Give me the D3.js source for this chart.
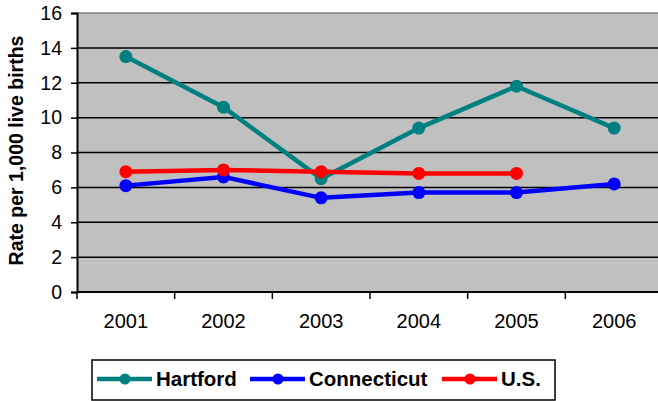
<!DOCTYPE html>
<html>
<head>
<meta charset="utf-8">
<script src="https://cdn.jsdelivr.net/npm/d3@7.9.0/dist/d3.min.js"></script>
<style>
  html, body { margin: 0; padding: 0; background: #fff; }
  svg { display: block; font-family: Arial, "Liberation Sans", sans-serif; }
</style>
</head>
<body>
<div id="chart"></div>
<script>
/* ---------- data --------- */
const years = ['2001', '2002', '2003', '2004', '2005', '2006'];
const hartford    = [13.5, 10.6, 6.5, 9.4, 11.8, 9.4];
const connecticut = [6.1, 6.6, 5.4, 5.7, 5.7, 6.2];
const us          = [6.9, 7.0, 6.9, 6.8, 6.8, null];
const yTicks = [0, 2, 4, 6, 8, 10, 12, 14, 16];

const series = [
  { name: 'Hartford',    values: hartford,    color: '#008080' },
  { name: 'Connecticut', values: connecticut, color: '#0000FF' },
  { name: 'U.S.',        values: us,          color: '#FF0000' },
];

/* ---------- layout --------- */
const W = 658, H = 401;
const area = { l: 77, r: 663, t: 13, b: 292 };

const svg = d3.select('#chart').append('svg')
  .attr('width', W).attr('height', H);

const x = d3.scaleBand().domain(years).range([area.l, area.r]);
const y = d3.scaleLinear().domain([0, 16]).range([area.b, area.t]);

// plot background
svg.append('rect')
  .attr('x', area.l).attr('y', area.t)
  .attr('width', area.r - area.l).attr('height', area.b - area.t)
  .attr('fill', '#C0C0C0');

// gridlines
svg.append('g').selectAll('line')
  .data(yTicks.filter(d => d > 0))
  .join('line')
  .attr('x1', area.l).attr('x2', area.r)
  .attr('y1', d => y(d)).attr('y2', d => y(d))
  .attr('stroke', d => d === 16 ? '#808080' : '#000')
  .attr('stroke-width', 1.5);

// y axis
const yAxis = svg.append('g')
  .attr('transform', `translate(${area.l},0)`)
  .call(d3.axisLeft(y).tickValues(yTicks).tickSize(6).tickPadding(9).tickFormat(d3.format('d')));
yAxis.select('.domain').attr('stroke', '#000').attr('stroke-width', 2);
yAxis.selectAll('.tick line').attr('stroke', '#000').attr('stroke-width', 1.5);
yAxis.selectAll('text').attr('font-size', 19.5).attr('fill', '#000')
  .attr('font-family', 'Arial, "Liberation Sans", sans-serif');

// x axis: ticks on band boundaries
const xg = svg.append('g');
xg.append('line')
  .attr('x1', area.l).attr('x2', area.r)
  .attr('y1', area.b).attr('y2', area.b)
  .attr('stroke', '#000').attr('stroke-width', 2);
xg.selectAll('line.tk')
  .data(years)
  .join('line')
  .attr('class', 'tk')
  .attr('x1', d => x(d)).attr('x2', d => x(d))
  .attr('y1', area.b).attr('y2', area.b + 7)
  .attr('stroke', '#000').attr('stroke-width', 1.5);
xg.selectAll('text')
  .data(years)
  .join('text')
  .attr('x', d => x(d) + x.bandwidth() / 2)
  .attr('y', area.b + 36)
  .attr('text-anchor', 'middle')
  .attr('font-size', 20)
  .text(d => d);

// y title
svg.append('text')
  .attr('transform', `translate(23,${(area.t + area.b) / 2 - 2}) rotate(-90)`)
  .attr('text-anchor', 'middle')
  .attr('font-size', 19.5)
  .attr('font-weight', 'bold')
  .text('Rate per 1,000 live births');

/* ---------- series --------- */
const cx = (d, i) => x(years[i]) + x.bandwidth() / 2;
const line = d3.line()
  .defined(d => d != null)
  .x(cx)
  .y(d => y(d));

for (const s of series) {
  const g = svg.append('g');
  g.append('path')
    .attr('d', line(s.values))
    .attr('fill', 'none')
    .attr('stroke', s.color)
    .attr('stroke-width', 4.5)
    .attr('stroke-linejoin', 'round');
  g.selectAll('circle')
    .data(s.values.map((v, i) => ({ v, i })).filter(d => d.v != null))
    .join('circle')
    .attr('cx', d => cx(d.v, d.i))
    .attr('cy', d => y(d.v))
    .attr('r', 6.5)
    .attr('fill', s.color);
}

/* ---------- legend --------- */
const legend = svg.append('g');
legend.append('rect')
  .attr('x', 92).attr('y', 360)
  .attr('width', 463).attr('height', 40)
  .attr('fill', '#fff').attr('stroke', '#000').attr('stroke-width', 1.5);

const legendX = [97, 250, 442];
series.forEach((s, i) => {
  const lx = legendX[i];
  legend.append('line')
    .attr('x1', lx).attr('x2', lx + 55)
    .attr('y1', 379).attr('y2', 379)
    .attr('stroke', s.color).attr('stroke-width', 4.5);
  legend.append('circle')
    .attr('cx', lx + 28).attr('cy', 379).attr('r', 5.5)
    .attr('fill', s.color);
  legend.append('text')
    .attr('x', lx + 59).attr('y', 386)
    .attr('font-size', 20.5).attr('font-weight', 'bold')
    .text(s.name);
});
</script>
</body>
</html>
